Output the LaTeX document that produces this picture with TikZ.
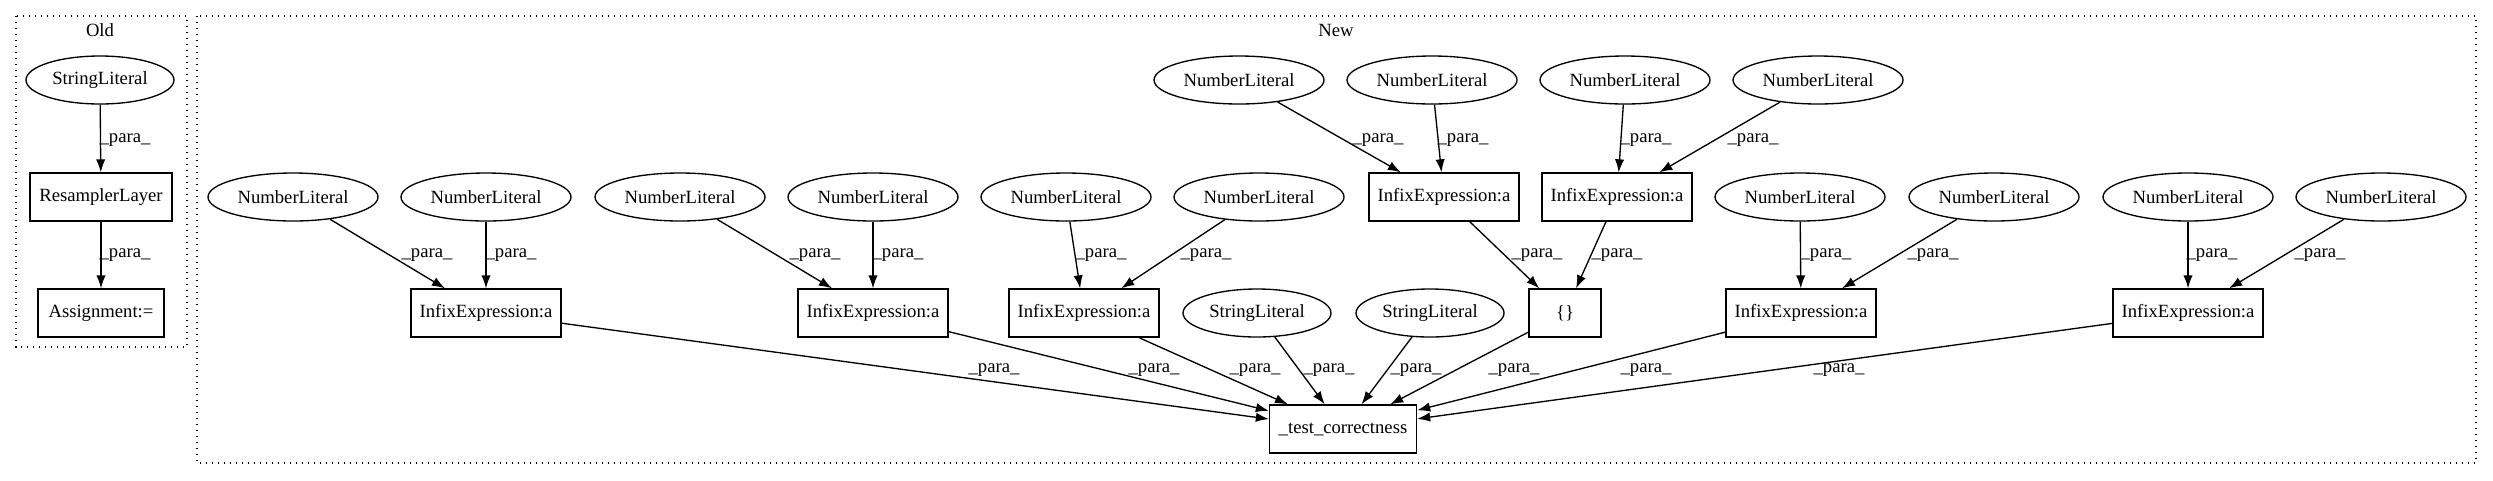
\documentclass[tikz,border=0pt]{standalone}
\usepackage{fontspec}
\setmainfont{Liberation Serif}
\usetikzlibrary{arrows.meta}
\usetikzlibrary{shapes.geometric}

\begin{document}
\begin{tikzpicture}[x=0.75pt, y=-0.75pt,
                    font=\fontsize{14pt}{16pt}\selectfont,
                    lit/.style={ellipse, draw, line width=1pt, inner sep=0pt,
                                minimum height=36pt, minimum width=#1},
                    lit/.default=127.5pt,
                    expr/.style={rectangle, draw, line width=1pt, inner sep=0pt,
                                 minimum height=36pt, minimum width=#1},
                    expr/.default=112.5pt,
                    lbl/.style={inner sep=0pt},
                    grp/.style={draw, line width=1pt, dash pattern=on 1pt off 3.5pt},
                    para/.style={line width=1pt, -{Latex[length=9.75pt,width=7pt]}}]
  \fill[white] (0,0) rectangle (2493,480);
  \useasboundingbox (0,0) rectangle (2493,480);

  % clusters
  \draw[grp] (16,16) rectangle (187,347);
  \node (oldlbl) at (100,30) {Old};
  \draw[grp] (197,16) rectangle (2476,463);
  \node (newlbl) at (1336,30) {New};

  % old
  \node[lit=111pt] (os) at (100,80) {StringLiteral};
  \node[expr=106.5pt] (orl) at (101,197) {ResamplerLayer};
  \node[expr=94.5pt] (oas) at (101,313) {Assignment:=};

  % new
  \foreach \nm/\x in {t1/1239, t2/1432, t3/1625, t4/1818}
    \node[lit] (\nm) at (\x,80) {NumberLiteral};
  \foreach \nm/\x in {n1/293, n2/486, n3/680, n4/873, n5/1066, n6/1259,
                      n7/1800, n8/1994, n9/2188, n10/2381}
    \node[lit] (\nm) at (\x,197) {NumberLiteral};
  \node[expr] (u1) at (1444,197) {InfixExpression:a};
  \node[expr] (u2) at (1617,197) {InfixExpression:a};
  \foreach \nm/\x in {e1/486, e2/873, e3/1084, e4/1801, e5/2188}
    \node[expr] (\nm) at (\x,313) {InfixExpression:a};
  \node[lit=111pt] (s1) at (1257,313) {StringLiteral};
  \node[lit=111pt] (s2) at (1430,313) {StringLiteral};
  \node[expr=54pt] (br) at (1565,313) {\{\}};
  \node[expr=110.25pt] (tc) at (1343,429) {\_test\_correctness};

  % edges
  \foreach \a/\b/\lx/\ly in {os/orl/125/140, orl/oas/125/255,
      n1/e1/427/255, n2/e1/511/255, n3/e2/815/255, n4/e2/898/255,
      n5/e3/1101/255, n6/e3/1206/255, t1/u1/1378/140, t2/u1/1463/140,
      t3/u2/1646/140, t4/u2/1753/140, u1/br/1537/255, u2/br/1617/255,
      n7/e4/1826/255, n8/e4/1933/255, n9/e5/2212/255, n10/e5/2320/255,
      e1/tc/994/370, e2/tc/1154/370, e3/tc/1255/370, s1/tc/1329/370,
      s2/tc/1416/370, br/tc/1514/370, e4/tc/1646/370, e5/tc/1839/370}{
    \draw[para] (\a) -- (\b);
    \node[lbl] (l-\a-\b) at (\lx,\ly) {\_para\_};
  }
\end{tikzpicture}
\end{document}
